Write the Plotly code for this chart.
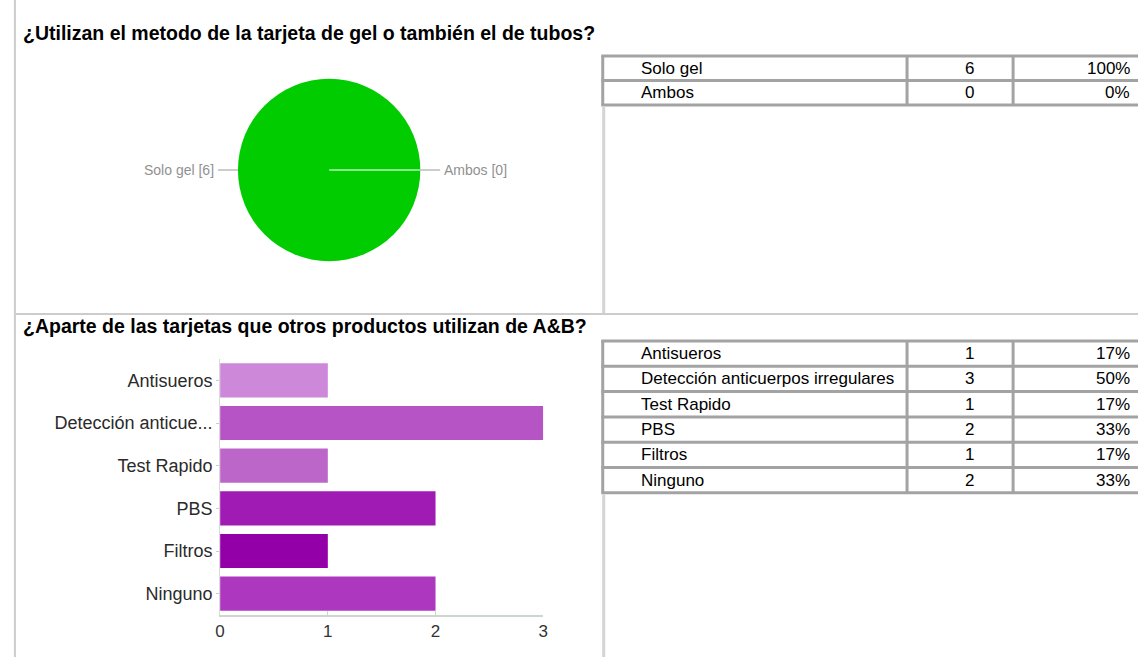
import plotly.graph_objects as go

W, H = 1143, 657

# ---------------- data ----------------
q1_title = "¿Utilizan el metodo de la tarjeta de gel o también el de tubos?"
q1_labels = ["Solo gel", "Ambos"]
q1_counts = [6, 0]
q1_percent = [100, 0]
q1_colors = ["#00cc00", "#dc3912"]

q2_title = "¿Aparte de las tarjetas que otros productos utilizan de A&B?"
q2_labels = ["Antisueros", "Detección anticuerpos irregulares", "Test Rapido",
             "PBS", "Filtros", "Ninguno"]
q2_counts = [1, 3, 1, 2, 1, 2]
q2_percent = [17, 50, 17, 33, 17, 33]
q2_colors = ["#cd88d9", "#b653c5", "#bd66c9", "#a01bb3", "#9300a7", "#ad38bf"]
q2_xticks = [0, 1, 2, 3]

# ---------------- layout constants (pixels) ----------------
FONT = "Liberation Sans, Arial, sans-serif"
LEFT_LINE_X = 10
SEP_Y = 314
TBL_X = [603, 910, 1017, W]
TBL1_TOP, TBL1_ROW = 56, 24.5
TBL2_TOP, TBL2_ROW = 341, 25.3
PIE_CX, PIE_CY, PIE_R = 327, 170, 92
BAR_X0, BAR_X1 = 217, 543
BAR_Y0, BAR_Y1 = 359, 615


def fx(x):
    return x / W


def fy(y):
    return 1 - y / H


shapes = []
annotations = []


def line(x0, y0, x1, y1, color, width):
    shapes.append(dict(type="line", xref="paper", yref="paper",
                       x0=fx(x0), y0=fy(y0), x1=fx(x1), y1=fy(y1),
                       line=dict(color=color, width=width), layer="above"))


def text(x, y, s, size=17, color="#000", xanchor="left", bold=False):
    annotations.append(dict(xref="paper", yref="paper", x=fx(x), y=fy(y),
                            text=("<b>%s</b>" % s) if bold else s,
                            showarrow=False, xanchor=xanchor, yanchor="middle",
                            font=dict(family=FONT, size=size, color=color)))


def table(top, row_h, labels, counts, pcts):
    n = len(labels)
    bottom = top + n * row_h
    for i in range(n + 1):
        yy = top + i * row_h
        line(TBL_X[0] - 1.5, yy, TBL_X[-1], yy, "#a3a3a3", 3)
    for xx in TBL_X[:-1]:
        line(xx, top, xx, bottom, "#a3a3a3", 3)
    for i, (lab, c, p) in enumerate(zip(labels, counts, pcts)):
        yc = top + (i + 0.5) * row_h
        text(640, yc, lab)
        text(973, yc, str(c), xanchor="center")
        text(1137, yc, "%d%%" % p, xanchor="right")
    return bottom


# frame lines
line(LEFT_LINE_X, 0, LEFT_LINE_X, H, "#cccccc", 2)
line(LEFT_LINE_X, SEP_Y, W, SEP_Y, "#cccccc", 2)

# titles
text(16, 33, q1_title, size=19.5, bold=True)
text(16, 326, q2_title, size=19.5, bold=True)

# tables
b1 = table(TBL1_TOP, TBL1_ROW, q1_labels, q1_counts, q1_percent)
b2 = table(TBL2_TOP, TBL2_ROW, q2_labels, q2_counts, q2_percent)
line(TBL_X[0] + 1, b1 + 1.5, TBL_X[0] + 1, SEP_Y - 1, "#d4d4d4", 3)
line(TBL_X[0] + 1, b2 + 1.5, TBL_X[0] + 1, H, "#d4d4d4", 3)

# pie labels with leader lines (left: first slice, right: second slice)
for i, side in enumerate([-1, 1]):
    edge = PIE_CX + side * PIE_R
    line(edge, PIE_CY, edge + side * 20, PIE_CY, "#9a9a9a", 1)
    text(edge + side * 22, PIE_CY, "%s [%d]" % (q1_labels[i], q1_counts[i]),
         size=14, color="#919191", xanchor="left" if side > 0 else "right")
# boundary of the zero-size slice
line(PIE_CX, PIE_CY, PIE_CX + PIE_R, PIE_CY, "#b6f5b6", 1.5)

fig = go.Figure()
fig.add_trace(go.Pie(
    values=q1_counts, labels=q1_labels, sort=False, direction="clockwise",
    marker=dict(colors=q1_colors, line=dict(width=0)),
    textinfo="none", showlegend=False, hoverinfo="label+value",
    domain=dict(x=[fx(PIE_CX - PIE_R), fx(PIE_CX + PIE_R)],
                y=[fy(PIE_CY + PIE_R), fy(PIE_CY - PIE_R)]),
))

short = [s if len(s) <= 20 else s[:17] + "..." for s in q2_labels]
fig.add_trace(go.Bar(
    x=q2_counts, y=q2_labels, orientation="h",
    marker=dict(color=q2_colors, line=dict(width=0)),
    showlegend=False, hoverinfo="y+x",
))

fig.update_layout(
    width=W, height=H, margin=dict(l=0, r=0, t=0, b=0),
    paper_bgcolor="white", plot_bgcolor="white",
    font=dict(family=FONT),
    bargap=0.2,
    xaxis=dict(domain=[fx(BAR_X0), fx(BAR_X1)], range=[0, 3],
               tickvals=q2_xticks, showgrid=False, zeroline=False,
               showline=True, linecolor="#cfd6cf", linewidth=1.5,
               ticks="inside", ticklen=4, tickcolor="#cfd6cf",
               tickfont=dict(size=17, color="#333"), anchor="y"),
    yaxis=dict(domain=[fy(BAR_Y1), fy(BAR_Y0)], autorange="reversed",
               tickvals=q2_labels, ticktext=short, showgrid=False,
               zeroline=False, showline=True, linecolor="#d9d9d9",
               linewidth=1, ticks="outside", ticklen=3, tickcolor="#cccccc",
               tickfont=dict(size=18, color="#2a2a2a"), anchor="x"),
    shapes=shapes, annotations=annotations,
)

fig.write_html("out.html")
